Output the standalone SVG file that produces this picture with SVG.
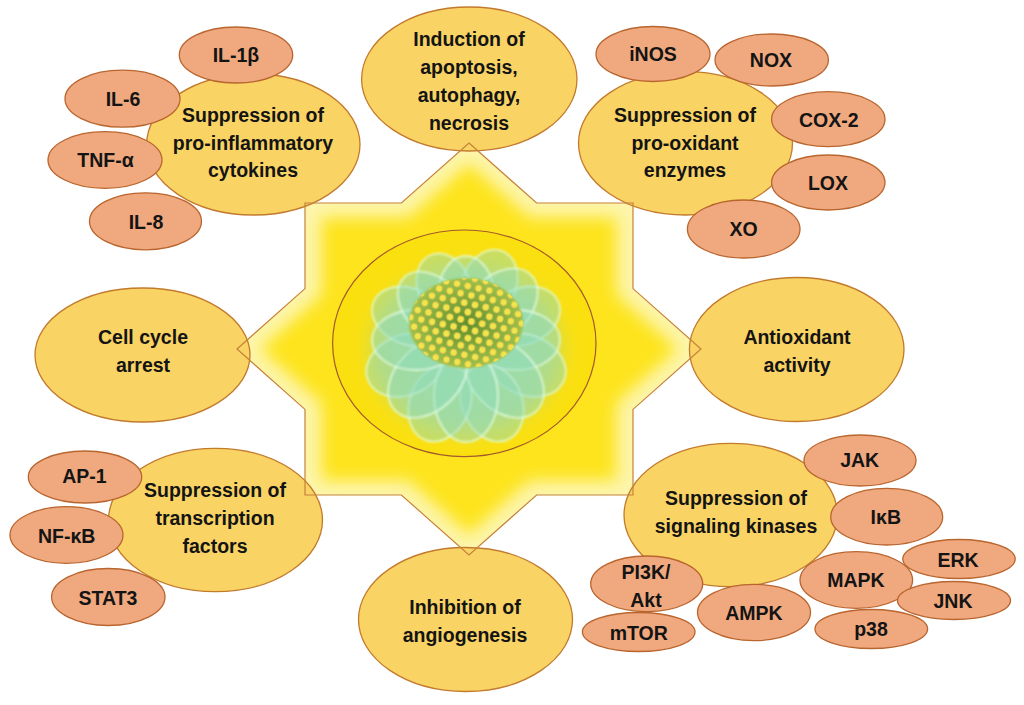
<svg xmlns="http://www.w3.org/2000/svg" width="1024" height="705" viewBox="0 0 1024 705">
<style>
.big{fill:#f9d364;stroke:#c27a2c;stroke-width:1.3}
.small{fill:#f0a97f;stroke:#b9652e;stroke-width:1.3}
.t{font-family:"Liberation Sans",Arial,sans-serif;font-weight:bold;font-size:19.5px;fill:#141414;text-anchor:middle}
.outline{fill:none;stroke:#c6823a;stroke-width:1.2}
.petal{fill:#8fdcc0;fill-opacity:.45;stroke:#e4ffe8;stroke-width:1.3}
</style>
<defs>
<filter id="glow" x="-20%" y="-20%" width="140%" height="140%"><feGaussianBlur stdDeviation="9"/></filter>
<filter id="soft" x="-20%" y="-20%" width="140%" height="140%"><feGaussianBlur stdDeviation="1.1"/></filter>
<filter id="haze" x="-30%" y="-30%" width="160%" height="160%"><feGaussianBlur stdDeviation="10"/></filter>
<pattern id="stamens" width="11" height="17" patternUnits="userSpaceOnUse" patternTransform="rotate(12)">
<circle cx="5.5" cy="4" r="3.4" fill="#efe54c" stroke="#d6a64a" stroke-width=".6"/>
<circle cx="0" cy="12.5" r="3.4" fill="#efe54c" stroke="#d6a64a" stroke-width=".6"/>
<circle cx="11" cy="12.5" r="3.4" fill="#efe54c" stroke="#d6a64a" stroke-width=".6"/>
</pattern>
<radialGradient id="cluster" cx="50%" cy="50%" r="50%">
<stop offset="0" stop-color="#5e8f2c"/><stop offset="1" stop-color="#9cc24a"/>
</radialGradient>
<polygon id="starShape" points="469,143 536.6,203 633,203 633,288.6 701,349 633,409.4 633,495 536.6,495 469,555 401.4,495 305,495 305,409.4 237,349 305,288.6 305,203 401.4,203"/>
</defs>

<g id="center-star">
<use href="#starShape" fill="#fdf5ac"/>
<use href="#starShape" fill="#fde41c" filter="url(#glow)" transform="translate(469,349) scale(0.9) translate(-469,-349)"/>
<ellipse cx="464.3" cy="343.3" rx="131.7" ry="113.3" fill="#fbe010" stroke="#a3592c" stroke-width="1.2"/>
<g id="flower">
<ellipse cx="466" cy="350" rx="95" ry="82" fill="#9fd8a8" opacity=".55" filter="url(#haze)"/>
<g transform="translate(466,340)" filter="url(#soft)">
<ellipse class="petal" cx="0" cy="-60" rx="27" ry="36" transform="rotate(22.5)"/>
<ellipse class="petal" cx="0" cy="-62" rx="28" ry="38" transform="rotate(67.5)"/>
<ellipse class="petal" cx="0" cy="-66" rx="30" ry="40" transform="rotate(112.5)"/>
<ellipse class="petal" cx="0" cy="-68" rx="30" ry="40" transform="rotate(157.5)"/>
<ellipse class="petal" cx="0" cy="-68" rx="30" ry="40" transform="rotate(202.5)"/>
<ellipse class="petal" cx="0" cy="-66" rx="30" ry="40" transform="rotate(247.5)"/>
<ellipse class="petal" cx="0" cy="-62" rx="28" ry="38" transform="rotate(292.5)"/>
<ellipse class="petal" cx="0" cy="-58" rx="26" ry="34" transform="rotate(337.5)"/>
<ellipse class="petal" cx="0" cy="-44" rx="28" ry="40" transform="rotate(0)"/>
<ellipse class="petal" cx="0" cy="-48" rx="30" ry="44" transform="rotate(45)"/>
<ellipse class="petal" cx="0" cy="-50" rx="30" ry="44" transform="rotate(90)"/>
<ellipse class="petal" cx="0" cy="-54" rx="32" ry="46" transform="rotate(135)"/>
<ellipse class="petal" cx="0" cy="-56" rx="32" ry="46" transform="rotate(180)"/>
<ellipse class="petal" cx="0" cy="-54" rx="32" ry="46" transform="rotate(225)"/>
<ellipse class="petal" cx="0" cy="-50" rx="30" ry="44" transform="rotate(270)"/>
<ellipse class="petal" cx="0" cy="-46" rx="28" ry="42" transform="rotate(315)"/>
</g>
<ellipse cx="466" cy="323" rx="57" ry="45" fill="url(#cluster)" filter="url(#soft)"/>
<ellipse cx="466" cy="323" rx="57" ry="45" fill="url(#stamens)"/>
</g>
</g>

<g id="cytokines"><ellipse class="big" cx="253.3" cy="144.5" rx="106.7" ry="70.5"/><text class="t" x="253" y="122">Suppression of</text><text class="t" x="253" y="149.5">pro-inflammatory</text><text class="t" x="253" y="177">cytokines</text></g>
<g id="apoptosis"><ellipse class="big" cx="469.3" cy="79" rx="107.7" ry="72"/><text class="t" x="469" y="46">Induction of</text><text class="t" x="469" y="74">apoptosis,</text><text class="t" x="469" y="102">autophagy,</text><text class="t" x="469" y="130">necrosis</text></g>
<g id="prooxidant"><ellipse class="big" cx="685.5" cy="143.3" rx="107" ry="71.7"/><text class="t" x="685" y="122">Suppression of</text><text class="t" x="685" y="149.5">pro-oxidant</text><text class="t" x="685" y="177">enzymes</text></g>
<g id="cellcycle"><ellipse class="big" cx="142.5" cy="355" rx="107.5" ry="67"/><text class="t" x="143" y="344">Cell cycle</text><text class="t" x="143" y="372">arrest</text></g>
<g id="antioxidant"><ellipse class="big" cx="796.7" cy="349.5" rx="107.3" ry="72"/><text class="t" x="797" y="344">Antioxidant</text><text class="t" x="797" y="372">activity</text></g>
<g id="transcription"><ellipse class="big" cx="215.5" cy="520" rx="107" ry="71.7"/><text class="t" x="215" y="497">Suppression of</text><text class="t" x="215" y="525">transcription</text><text class="t" x="215" y="553">factors</text></g>
<g id="kinases"><ellipse class="big" cx="730.7" cy="515" rx="106.7" ry="71.7"/><text class="t" x="736" y="505">Suppression of</text><text class="t" x="736" y="533">signaling kinases</text></g>
<g id="angiogenesis"><ellipse class="big" cx="465.5" cy="619.5" rx="107" ry="72"/><text class="t" x="465" y="614">Inhibition of</text><text class="t" x="465" y="642">angiogenesis</text></g>

<g id="il1b"><ellipse class="small" cx="236" cy="55" rx="56.7" ry="28"/><text class="t" x="236" y="62">IL-1β</text></g>
<g id="il6"><ellipse class="small" cx="122.5" cy="98.7" rx="57.5" ry="28.5"/><text class="t" x="123" y="106">IL-6</text></g>
<g id="tnfa"><ellipse class="small" cx="105" cy="160" rx="57" ry="28.3"/><text class="t" x="105.5" y="167">TNF-α</text></g>
<g id="il8"><ellipse class="small" cx="145.5" cy="221.3" rx="56" ry="28.5"/><text class="t" x="146" y="228.5">IL-8</text></g>

<g id="inos"><ellipse class="small" cx="653" cy="54" rx="57" ry="27.5"/><text class="t" x="653" y="61">iNOS</text></g>
<g id="nox"><ellipse class="small" cx="771.7" cy="60" rx="56.7" ry="26"/><text class="t" x="771" y="67">NOX</text></g>
<g id="cox2"><ellipse class="small" cx="828.3" cy="119.2" rx="56.7" ry="27.5"/><text class="t" x="828.7" y="126.5">COX-2</text></g>
<g id="lox"><ellipse class="small" cx="828.3" cy="182.5" rx="56.7" ry="27.5"/><text class="t" x="828" y="190">LOX</text></g>
<g id="xo"><ellipse class="small" cx="743.7" cy="229" rx="56.3" ry="29"/><text class="t" x="743.7" y="235.5">XO</text></g>

<g id="ap1"><ellipse class="small" cx="85" cy="477" rx="56.7" ry="26"/><text class="t" x="84.5" y="482.5">AP-1</text></g>
<g id="nfkb"><ellipse class="small" cx="66.5" cy="535" rx="56.5" ry="28.3"/><text class="t" x="66.7" y="543">NF-κB</text></g>
<g id="stat3"><ellipse class="small" cx="108.3" cy="597" rx="56.7" ry="28.5"/><text class="t" x="108" y="605">STAT3</text></g>

<g id="jak"><ellipse class="small" cx="860" cy="460.5" rx="56" ry="25.5"/><text class="t" x="859.7" y="467">JAK</text></g>
<g id="ikb"><ellipse class="small" cx="886.7" cy="516.7" rx="56" ry="28.3"/><text class="t" x="885.8" y="523.7">IκB</text></g>
<g id="erk"><ellipse class="small" cx="959" cy="559" rx="56.2" ry="19.5"/><text class="t" x="958" y="566.5">ERK</text></g>
<g id="mapk"><ellipse class="small" cx="856.3" cy="580" rx="56.3" ry="28.3"/><text class="t" x="856" y="587">MAPK</text></g>
<g id="jnk"><ellipse class="small" cx="954" cy="600.5" rx="56.5" ry="19"/><text class="t" x="953" y="607.5">JNK</text></g>
<g id="p38"><ellipse class="small" cx="871.3" cy="629" rx="56.3" ry="19.5"/><text class="t" x="871" y="636">p38</text></g>
<g id="ampk"><ellipse class="small" cx="754" cy="612.5" rx="56.5" ry="28.2"/><text class="t" x="754" y="619.5">AMPK</text></g>
<g id="pi3k"><ellipse class="small" cx="646.7" cy="583.8" rx="56" ry="27.8"/><text class="t" x="646" y="579">PI3K/</text><text class="t" x="646" y="607">Akt</text></g>
<g id="mtor"><ellipse class="small" cx="638.7" cy="632" rx="56.3" ry="19.5"/><text class="t" x="638.8" y="640">mTOR</text></g>

<g id="star-outline"><use href="#starShape" class="outline"/></g>
<g id="connectors"/>
</svg>
